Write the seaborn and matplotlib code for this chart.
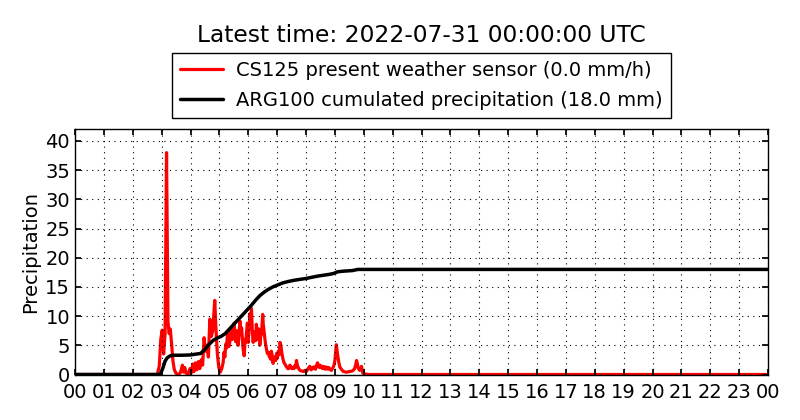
import matplotlib
matplotlib.use("Agg")
import matplotlib.pyplot as plt
import seaborn as sns
import pandas as pd

# ---- data (hours since 00 UTC) ----
red_hours = [0.0, 2.85, 2.92, 2.97, 3.02, 3.07, 3.12, 3.17, 3.22, 3.26, 3.30, 3.35, 3.39, 3.44, 3.50,
             3.58, 3.65, 3.72, 3.76, 3.80, 3.85, 3.92, 3.98, 4.03, 4.08, 4.12, 4.17, 4.22, 4.27, 4.32,
             4.37, 4.42, 4.47, 4.52, 4.57, 4.62, 4.67, 4.72, 4.77, 4.84, 4.88, 4.93, 4.98, 5.03, 5.08,
             5.13, 5.16, 5.19, 5.22, 5.25, 5.28, 5.30, 5.33, 5.36, 5.39, 5.42, 5.45, 5.48, 5.51, 5.54,
             5.57, 5.60, 5.63, 5.65, 5.68, 5.71, 5.74, 5.77, 5.80, 5.82, 5.86, 5.89, 5.91, 5.94, 5.97,
             6.00, 6.03, 6.06, 6.09, 6.11, 6.14, 6.17, 6.20, 6.23, 6.26, 6.28, 6.31, 6.34, 6.37, 6.40,
             6.43, 6.46, 6.50, 6.52, 6.55, 6.57, 6.60, 6.63, 6.66, 6.70, 6.73, 6.75, 6.78, 6.80, 6.83,
             6.86, 6.89, 6.92, 6.95, 6.98, 7.01, 7.04, 7.07, 7.10, 7.13, 7.16, 7.20, 7.24, 7.27, 7.30,
             7.33, 7.37, 7.40, 7.44, 7.47, 7.51, 7.55, 7.58, 7.61, 7.64, 7.67, 7.70, 7.73, 7.76, 7.79,
             7.85, 7.92, 7.96, 8.00, 8.03, 8.06, 8.10, 8.13, 8.18, 8.21, 8.24, 8.27, 8.30, 8.33, 8.36,
             8.40, 8.43, 8.46, 8.49, 8.52, 8.55, 8.58, 8.61, 8.64, 8.67, 8.70, 8.73, 8.76, 8.79, 8.82,
             8.85, 8.88, 8.91, 8.94, 8.97, 9.00, 9.05, 9.10, 9.14, 9.17, 9.24, 9.30, 9.40, 9.50, 9.60,
             9.65, 9.68, 9.72, 9.75, 9.78, 9.80, 9.83, 9.86, 9.92, 9.97, 10.05, 10.15, 24.0]
red_vals = [0.0, 0.0, 1.5, 6.0, 7.6, 3.5, 7.0, 38.0, 9.0, 7.0, 7.8, 5.0, 2.4, 0.8, 0.2,
            0.0, 0.3, 1.6, 0.4, 1.2, 0.2, 0.0, 1.0, 0.3, 1.8, 0.5, 2.0, 0.8, 2.2, 1.0,
            2.5, 1.6, 6.3, 4.0, 5.0, 3.0, 9.5, 6.5, 7.5, 12.7, 8.0, 3.5, 1.2, 0.4, 1.0,
            2.0, 3.8, 3.0, 5.2, 4.5, 7.0, 6.1, 4.8, 5.5, 7.6, 8.0, 6.0, 7.0, 8.8, 6.4,
            5.6, 7.5, 6.2, 5.0, 6.8, 9.2, 7.0, 8.0, 5.8, 4.4, 3.2, 6.0, 5.5, 7.2, 8.8,
            5.5, 7.8, 10.4, 8.0, 11.3, 7.6, 5.5, 7.0, 7.3, 5.8, 8.6, 7.0, 6.0, 7.8, 5.0,
            6.5, 7.0, 10.3, 8.6, 7.2, 6.4, 5.2, 4.4, 3.6, 3.8, 3.0, 3.3, 2.6, 4.0, 3.2,
            1.9, 2.8, 3.0, 2.4, 3.6, 2.8, 4.0, 3.4, 5.5, 5.0, 3.8, 2.7, 2.0, 1.8, 1.5,
            1.3, 1.0, 1.0, 1.6, 1.4, 1.0, 1.2, 1.0, 1.5, 1.2, 2.4, 1.6, 1.2, 0.9, 0.7,
            0.6, 0.5, 0.7, 0.5, 0.6, 0.9, 1.2, 1.4, 0.8, 1.2, 1.0, 1.3, 1.1, 0.9, 1.5,
            2.0, 1.4, 1.2, 1.6, 1.4, 1.1, 1.0, 1.4, 1.2, 0.9, 1.3, 1.1, 0.9, 1.2, 1.0,
            0.8, 0.7, 1.0, 1.2, 1.6, 2.4, 5.1, 3.2, 2.0, 1.3, 0.8, 0.5, 0.4, 0.5, 0.6,
            0.8, 1.0, 1.6, 2.4, 1.8, 1.2, 0.9, 0.7, 1.4, 0.2, 0.1, 0.0, 0.0]

black_hours = [0.0, 2.92, 2.97, 3.05, 3.12, 3.20, 3.30, 3.40, 3.70, 4.00, 4.20, 4.35, 4.50, 4.65,
               4.80, 4.95, 5.05, 5.20, 5.35, 5.50, 5.65, 5.80, 5.95, 6.10, 6.25, 6.40, 6.55, 6.70,
               6.85, 7.00, 7.20, 7.40, 7.60, 7.80, 8.00, 8.20, 8.40, 8.60, 8.80, 8.95, 9.10, 9.30,
               9.60, 9.80, 24.0]
black_vals = [0.0, 0.0, 0.2, 1.2, 2.3, 2.9, 3.2, 3.3, 3.3, 3.35, 3.5, 3.6, 4.3, 5.2,
              5.9, 6.3, 6.5, 7.0, 7.8, 8.6, 9.4, 10.2, 11.0, 11.8, 12.7, 13.5, 14.1, 14.6,
              15.0, 15.3, 15.7, 15.95, 16.15, 16.3, 16.45, 16.65, 16.85, 17.0, 17.15, 17.3, 17.6, 17.7,
              17.8, 18.0, 18.0]

red_label = "CS125 present weather sensor (0.0 mm/h)"
black_label = "ARG100 cumulated precipitation (18.0 mm)"
title = "Latest time: 2022-07-31 00:00:00 UTC"
xtick_pos = list(range(0, 25))
xtick_labels = ["%02d" % h for h in range(24)] + ["00"]
ytick_pos = [0, 5, 10, 15, 20, 25, 30, 35, 40]

sns.set_theme(style="white", rc={
    "xtick.direction": "in", "ytick.direction": "in",
    "xtick.top": True, "ytick.right": True,
    "xtick.bottom": True, "ytick.left": True,
    "axes.edgecolor": "black", "axes.linewidth": 1.0,
    "grid.color": "black", "grid.linewidth": 0.8,
    "xtick.major.size": 4, "ytick.major.size": 4,
    "xtick.color": "black", "ytick.color": "black",
    "text.color": "black", "axes.labelcolor": "black",
})
plt.rcParams["font.family"] = ["DejaVu Sans"]

fig = plt.figure(figsize=(8, 4.2), dpi=100)
ax = fig.add_axes([75 / 800, 1 - 374.5 / 420, (768 - 75) / 800, (374.5 - 129.3) / 420])

df_r = pd.DataFrame({"h": red_hours, "v": red_vals})
df_b = pd.DataFrame({"h": black_hours, "v": black_vals})
sns.lineplot(data=df_r, x="h", y="v", ax=ax, color="red", lw=2.3, label=red_label,
             sort=False, estimator=None)
sns.lineplot(data=df_b, x="h", y="v", ax=ax, color="black", lw=2.5, label=black_label,
             sort=False, estimator=None)

ax.set_xlim(0, 24)
ax.set_ylim(0, 42)
ax.set_xticks(xtick_pos)
ax.set_xticklabels(xtick_labels, fontsize=14)
ax.set_yticks(ytick_pos)
ax.tick_params(axis="y", labelsize=14)
ax.tick_params(axis="x", pad=6)
ax.grid(True, linestyle=(0, (1, 4)))
ax.set_axisbelow(False)
ax.set_xlabel("")
ax.set_ylabel("Precipitation", fontsize=14)

leg = ax.legend(loc="lower center", bbox_to_anchor=(0.5, 1.048), fontsize=14,
                frameon=True, fancybox=False, framealpha=1, edgecolor="black",
                handlelength=2.2, handletextpad=0.7, labelspacing=0.55, borderpad=0.4,
                borderaxespad=0)
leg.get_frame().set_linewidth(1.0)

fig.text(421.5 / 800, 1 - 35 / 420, title, ha="center", va="center", fontsize=16.8)

fig.savefig("out.png", dpi=100)
